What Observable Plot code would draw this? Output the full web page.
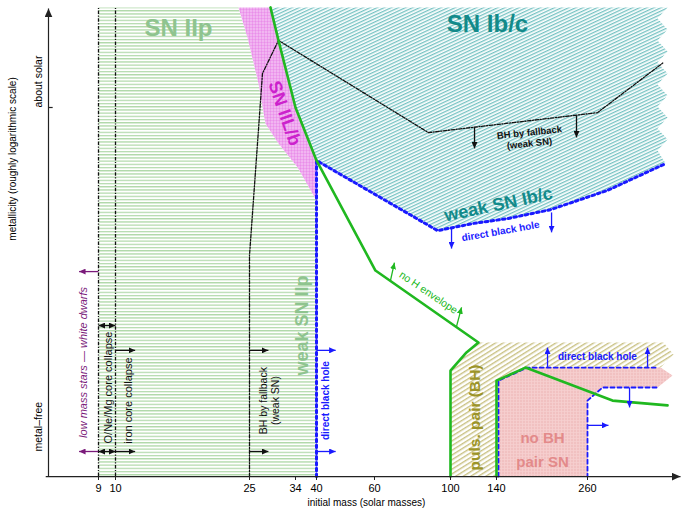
<!DOCTYPE html>
<html>
<head>
<meta charset="utf-8">
<script src="https://cdn.jsdelivr.net/npm/d3@7"></script>
<script src="https://cdn.jsdelivr.net/npm/@observablehq/plot@0.6"></script>
<style>
  html, body { margin: 0; padding: 0; background: #fff; }
</style>
</head>
<body>
<div id="chart"></div>
<script>
// Initial mass (solar masses) on x, metallicity (0 = metal-free, 1 = about solar) on y.
const massTicks = [9, 10, 25, 34, 40, 60, 100, 140, 260];
const metallicityTicks = [0, 1];
const metallicityLabels = ["metal\u2013free", "about solar"];

const zBottom = -0.073;
const zTop = 1.291;

// Regions: [mass, metallicity] outlines
const snIIpRegion = [[9, zBottom], [9, zTop], [23.77, zTop], [24.78, 1.203], [26.76, 1.07], [28.13, 0.953],
  [30.67, 0.895], [34.57, 0.826], [40, 0.73], [40, zBottom]];
const snIILbRegion = [[23.77, zTop], [24.78, 1.203], [26.76, 1.07], [28.13, 0.953], [30.67, 0.895],
  [34.57, 0.826], [40, 0.73], [40, 0.846], [34, 1.0], [30.67, 1.195], [29.1, zTop]];
const snIbcRegion = [[29.1, zTop], [380.5, zTop], [365.4, 1.259], [380.5, 1.227], [365.4, 1.195], [380.5, 1.163],
  [365.4, 1.131], [380.5, 1.099], [365.4, 1.067], [380.5, 1.035], [365.4, 1.003], [380.5, 0.971],
  [365.4, 0.939], [380.5, 0.907], [365.4, 0.875], [377.5, 0.837], [290.1, 0.759], [211.2, 0.703],
  [154.5, 0.677], [120, 0.663], [93.2, 0.642], [40, 0.846], [34, 1.0], [30.67, 1.195]];
const pulsPairRegion = [[100, zBottom], [100, 0.235], [113.9, 0.288], [124.3, 0.317], [374.5, 0.317],
  [389.5, 0.282], [370, 0.244], [180.9, 0.244], [142.6, 0.206], [142.6, zBottom]];
const pairSNRegion = [[142.6, zBottom], [142.6, 0.206], [180.9, 0.244], [370, 0.244], [388, 0.221],
  [365.4, 0.186], [282.6, 0.186], [260, 0.148], [260, zBottom]];

// Boundary lines
const noHEnvelope = [[29.1, zTop], [30.67, 1.195], [34, 1.0], [40, 0.846], [60.5, 0.526], [124.3, 0.317],
  [113.9, 0.288], [100, 0.235], [100, zBottom]];
const pairLimit = [[140, zBottom], [140, 0.206], [178.3, 0.244], [297.6, 0.148], [380.5, 0.134]];
const bhFallback = [[25, zBottom], [25, 0.57], [27.54, 1.099], [30.67, 1.195], [88.4, 0.927], [275, 0.985], [374.5, 1.131]];
const directBH = [[40, zBottom], [40, 0.846], [93.2, 0.642], [120, 0.663], [154.5, 0.677], [211.2, 0.703],
  [290.1, 0.759], [377.5, 0.837]];
const pairDirectUpper = [[142.6, zBottom], [142.6, 0.206], [180.9, 0.244], [362.4, 0.244]];
const pairDirectLower = [[363.9, 0.186], [282.6, 0.186], [260, 0.148], [260, zBottom]];
const coreLimits = [9, 10];

// Arrows
const whiteDwarfArrows = [{m1: 9, m2: 5.5, z1: 0.523, z2: 0.523}, {m1: 9, m2: 5.5, z1: 0, z2: 0}];
const coreArrows = [
  {m1: 9, m2: 10, z1: 0.366, z2: 0.366}, {m1: 9, m2: 10, z1: 0, z2: 0}
];
const blackArrows = [
  {m1: 10, m2: 12.2, z1: 0.294, z2: 0.294}, {m1: 10, m2: 12.2, z1: 0, z2: 0},
  {m1: 25, m2: 28.7, z1: 0.294, z2: 0.294}, {m1: 25, m2: 28.7, z1: 0, z2: 0},
  {m1: 120.9, m2: 120.9, z1: 0.942, z2: 0.881}, {m1: 245.5, m2: 245.5, z1: 0.977, z2: 0.913}
];
const blueArrows = [
  {m1: 40, m2: 46.6, z1: 0.294, z2: 0.294}, {m1: 40, m2: 46.6, z1: 0, z2: 0},
  {m1: 100.9, m2: 100.9, z1: 0.648, z2: 0.59}, {m1: 212.6, m2: 212.6, z1: 0.695, z2: 0.637},
  {m1: 207.3, m2: 207.3, z1: 0.244, z2: 0.302}, {m1: 350.4, m2: 350.4, z1: 0.244, z2: 0.302},
  {m1: 323.3, m2: 323.3, z1: 0.186, z2: 0.128}, {m1: 260, m2: 291.6, z1: 0.076, z2: 0.076}
];
const greenArrows = [
  {m1: 68.4, m2: 70.5, z1: 0.497, z2: 0.549}, {m1: 105.2, m2: 109.6, z1: 0.363, z2: 0.419}
];

// Labels
const bigLabels = [
  {m: 17.05, z: 1.23, text: "SN IIp", color: "#8fc48f", size: 24, rotate: 0},
  {m: 132.2, z: 1.241, text: "SN Ib/c", color: "#138a8a", size: 24, rotate: 0},
  {m: 31.85, z: 0.983, text: "SN IIL/b", color: "#cc22cc", size: 18, rotate: 71},
  {m: 36, z: 0.366, text: "weak SN IIp", color: "#8fc48f", size: 18, rotate: -90},
  {m: 142.6, z: 0.718, text: "weak SN Ib/c", color: "#138a8a", size: 18, rotate: -12},
  {m: 121.7, z: 0.099, text: "puls. pair (BH)", color: "#9c9428", size: 15.5, rotate: -90},
  {m: 200.7, z: 0.038, text: "no BH", color: "#e38a8a", size: 15, rotate: 0},
  {m: 200.7, z: -0.032, text: "pair SN", color: "#e38a8a", size: 15, rotate: 0}
];
const smallLabels = [
  {m: 183.5, z: 0.927, text: "BH by fallback", color: "#111", rotate: -6, weight: "bold", size: 9.5},
  {m: 183.5, z: 0.895, text: "(weak SN)", color: "#111", rotate: -6, weight: "bold", size: 9.5},
  {m: 145.3, z: 0.64, text: "direct black hole", color: "#1a1aff", rotate: -10, weight: "bold", size: 10},
  {m: 275, z: 0.276, text: "direct black hole", color: "#1a1aff", rotate: 0, weight: "bold", size: 10},
  {m: 88.4, z: 0.462, text: "no H envelope", color: "#20b820", rotate: 34, weight: "normal", size: 10.5},
  {m: 9.59, z: 0.186, text: "O/Ne/Mg core collapse", color: "#111", rotate: -90, weight: "normal", size: 11},
  {m: 11.46, z: 0.148, text: "iron core collapse", color: "#111", rotate: -90, weight: "normal", size: 11},
  {m: 27.74, z: 0.148, text: "BH by fallback", color: "#111", rotate: -90, weight: "normal", size: 10.5},
  {m: 30.1, z: 0.148, text: "(weak SN)", color: "#111", rotate: -90, weight: "normal", size: 10.5},
  {m: 43.1, z: 0.148, text: "direct black hole", color: "#1a1aff", rotate: -90, weight: "bold", size: 10}
];

// Filled triangular arrow head
function head(len, half) {
  return (color) => {
    const m = d3.create("svg:marker")
      .attr("viewBox", `${-len} ${-half} ${len} ${2 * half}`)
      .attr("markerUnits", "userSpaceOnUse")
      .attr("markerWidth", len)
      .attr("markerHeight", 2 * half)
      .attr("refX", 0)
      .attr("refY", 0)
      .attr("orient", "auto-start-reverse")
      .attr("fill", color)
      .attr("stroke", "none");
    m.append("path").attr("d", `M${-len},${-half}L0,0L${-len},${half}Z`);
    return m.node();
  };
}
const smallHead = head(6.5, 3);
const axisHead = head(9, 4);

const dashDot = "3.5,1.5,1.2,1.5";
const region = (data, fill) => Plot.line(data, {fill, stroke: "none"});
const arrows = (data, stroke, extra = {}) =>
  Plot.link(data, {x1: "m1", y1: "z1", x2: "m2", y2: "z2", stroke, strokeWidth: 1.3, markerEnd: smallHead, ...extra});

const svg = Plot.plot({
  width: 682,
  height: 510,
  marginLeft: 48,
  marginRight: 2,
  marginTop: 7,
  marginBottom: 34,
  style: {fontFamily: "'Liberation Sans', Arial, sans-serif", fontSize: "11px", background: "#fff"},
  x: {type: "linear", domain: [0, 9, 10, 25, 34, 40, 60, 100, 140, 260, 400],
      range: [48, 98, 115, 249, 295, 316, 374, 450, 496, 587, 680]},
  y: {type: "linear", domain: [0, 1], range: [451, 107], axis: null},
  marks: [
    region(snIIpRegion, "url(#hatch-iip)"),
    region(snIILbRegion, "url(#dots-iilb)"),
    region(snIbcRegion, "url(#hatch-ibc)"),
    region(pulsPairRegion, "url(#hatch-pp)"),
    region(pairSNRegion, "url(#dots-pair)"),

    Plot.ruleX(coreLimits, {y1: zBottom, y2: zTop, stroke: "#111", strokeWidth: 1.3, strokeDasharray: dashDot}),
    Plot.line(bhFallback, {stroke: "#111", strokeWidth: 1.3, strokeDasharray: dashDot}),
    Plot.line(directBH, {stroke: "#1a1aff", strokeWidth: 3, strokeDasharray: "2.6,3.2"}),
    Plot.line(pairDirectUpper, {stroke: "#1a1aff", strokeWidth: 1.8, strokeDasharray: "4,3"}),
    Plot.line(pairDirectLower, {stroke: "#1a1aff", strokeWidth: 1.8, strokeDasharray: "4,3"}),
    Plot.line(noHEnvelope, {stroke: "#20b820", strokeWidth: 2.6}),
    Plot.line(pairLimit, {stroke: "#20b820", strokeWidth: 2.6}),

    arrows(whiteDwarfArrows, "#7a1a7a"),
    arrows(coreArrows, "#111", {markerStart: smallHead}),
    arrows(blackArrows, "#111"),
    arrows(blueArrows, "#1a1aff"),
    arrows(greenArrows, "#20b820"),

    Plot.text(bigLabels, {x: "m", y: "z", text: "text", fill: "color", fontSize: "size", rotate: "rotate", fontWeight: "bold"}),
    Plot.text(smallLabels.filter(d => d.weight === "bold"), {x: "m", y: "z", text: "text", fill: "color", fontSize: "size", rotate: "rotate", fontWeight: "bold"}),
    Plot.text(smallLabels.filter(d => d.weight !== "bold"), {x: "m", y: "z", text: "text", fill: "color", fontSize: "size", rotate: "rotate"}),
    Plot.text(["low mass stars \u2014 white dwarfs"], {x: 6.3, y: 0.259, text: d => d, fill: "#7a1a7a", fontSize: 11, fontStyle: "italic", rotate: -90}),

    // axes
    Plot.link([{m1: -0.5, z1: zBottom, m2: 400, z2: zBottom}], {x1: "m1", y1: "z1", x2: "m2", y2: "z2", stroke: "#222", strokeWidth: 1.2, markerEnd: axisHead}),
    Plot.link([{m1: 0, z1: zBottom, m2: 0, z2: 1.288}], {x1: "m1", y1: "z1", x2: "m2", y2: "z2", stroke: "#222", strokeWidth: 1.2, markerEnd: axisHead}),
    Plot.axisX({ticks: massTicks, tickSize: 4, tickPadding: 4, fontSize: 11, label: null, stroke: "#222"}),
    Plot.link([1], {x1: 0, x2: 0.75, y1: d => d, y2: d => d, stroke: "#222", strokeWidth: 1.2}),
    Plot.text(metallicityTicks, {frameAnchor: "left", y: d => d, text: (d, i) => metallicityLabels[i], rotate: -90, dx: -10, fontSize: 10.5}),
    Plot.text(["metallicity (roughly logarithmic scale)"], {frameAnchor: "left", y: 0.613, text: d => d, rotate: -90, dx: -36, fontSize: 10}),
    Plot.text(["initial mass (solar masses)"], {frameAnchor: "bottom", x: 57.2, text: d => d, dy: 29, fontSize: 10})
  ]
});

// Fill patterns for the regions
svg.insertAdjacentHTML("afterbegin", `<defs>
  <pattern id="hatch-iip" patternUnits="userSpaceOnUse" width="6" height="3.2">
    <rect width="6" height="3.2" fill="#fff"/><rect width="6" height="1.3" fill="#b2d9ab"/>
  </pattern>
  <pattern id="hatch-ibc" patternUnits="userSpaceOnUse" width="6" height="3" patternTransform="rotate(-25)">
    <rect width="6" height="3" fill="#fff"/><rect width="6" height="1.3" fill="#74c2c2"/>
  </pattern>
  <pattern id="hatch-pp" patternUnits="userSpaceOnUse" width="6" height="4" patternTransform="rotate(-32)">
    <rect width="6" height="4" fill="#fff"/><rect width="6" height="1.4" fill="#c9c183"/>
  </pattern>
  <pattern id="dots-iilb" patternUnits="userSpaceOnUse" width="3" height="3">
    <rect width="3" height="3" fill="#e887e8"/><circle cx="1.5" cy="1.5" r="0.95" fill="#fdeafd"/>
  </pattern>
  <pattern id="dots-pair" patternUnits="userSpaceOnUse" width="3" height="3">
    <rect width="3" height="3" fill="#f6cfcf"/><circle cx="1.5" cy="1.5" r="0.7" fill="#e6a2a2"/>
  </pattern>
</defs>`);

document.getElementById("chart").appendChild(svg);
</script>
</body>
</html>
